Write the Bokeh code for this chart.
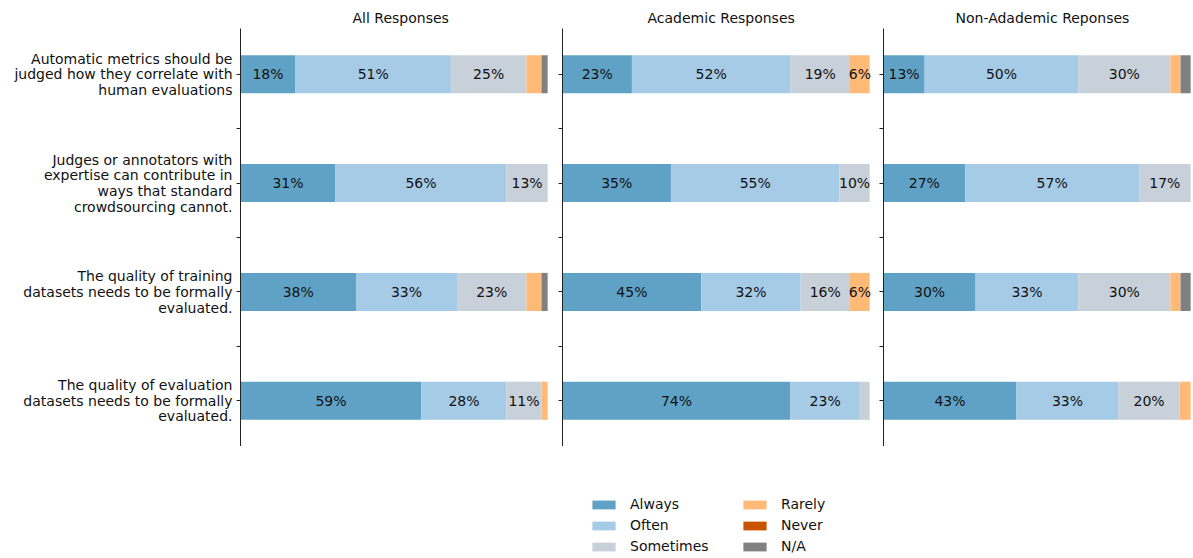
import numpy as np
from bokeh.plotting import figure
from bokeh.models import Range1d, FixedTicker, ColumnDataSource, Legend, LegendItem
from bokeh.layouts import row, column
from bokeh.embed import file_html
from bokeh.resources import INLINE
from bokeh.core.properties import value

FONT = "DejaVu Sans"

# ---------------- data ----------------
categories = ["Always", "Often", "Sometimes", "Rarely", "Never", "N/A"]
colors = ["#60a2c6", "#a5cbe7", "#c8d0da", "#ffba78", "#c85200", "#808080"]

questions = [
    "Automatic metrics should be\njudged how they correlate with\nhuman evaluations",
    "Judges or annotators with\nexpertise can contribute in\nways that standard\ncrowdsourcing cannot.",
    "The quality of training\ndatasets needs to be formally\nevaluated.",
    "The quality of evaluation\ndatasets needs to be formally\nevaluated.",
]

panel_titles = ["All Responses", "Academic Responses", "Non-Adademic Reponses"]

# percentages per question (rows) for each answer category
all_always    = [17.9, 30.9, 37.6, 58.9]
all_often     = [50.6, 55.7, 32.9, 27.7]
all_sometimes = [24.6, 13.4, 22.6, 11.4]
all_rarely    = [4.9, 0.0, 4.9, 2.0]
all_never     = [0.0, 0.0, 0.0, 0.0]
all_na        = [2.0, 0.0, 2.0, 0.0]

ac_always     = [22.6, 35.3, 45.2, 74.2]
ac_often      = [51.6, 54.9, 32.3, 22.6]
ac_sometimes  = [19.4, 9.8, 16.1, 3.2]
ac_rarely     = [6.4, 0.0, 6.4, 0.0]
ac_never      = [0.0, 0.0, 0.0, 0.0]
ac_na         = [0.0, 0.0, 0.0, 0.0]

na_always     = [13.4, 26.6, 30.0, 43.3]
na_often      = [50.0, 56.6, 33.4, 33.2]
na_sometimes  = [30.0, 16.8, 30.0, 19.9]
na_rarely     = [3.3, 0.0, 3.3, 3.6]
na_never      = [0.0, 0.0, 0.0, 0.0]
na_na         = [3.3, 0.0, 3.3, 0.0]

panels = [
    [all_always, all_often, all_sometimes, all_rarely, all_never, all_na],
    [ac_always, ac_often, ac_sometimes, ac_rarely, ac_never, ac_na],
    [na_always, na_often, na_sometimes, na_rarely, na_never, na_na],
]

rows_y = [0, 1, 2, 3]


def make_panel(title, series, first, border_left, title_offset):
    p = figure(frame_width=309, frame_height=418,
               x_range=Range1d(0, 100.6), y_range=Range1d(3.42, -0.42),
               toolbar_location=None, output_backend="svg",
               x_axis_location=None,
               min_border_left=border_left, min_border_right=0,
               min_border_top=28, min_border_bottom=0)
    p.outline_line_color = None
    p.xgrid.visible = False
    p.ygrid.visible = False
    p.background_fill_color = "white"

    left = np.zeros(len(rows_y))
    tx, ty, tt = [], [], []
    for vals, col in zip(series, colors):
        v = np.array(vals, dtype=float)
        right = left + v
        src = ColumnDataSource(dict(y=rows_y, left=left, right=right))
        p.hbar(y="y", left="left", right="right", height=0.35, source=src,
               fill_color=col, line_color=None)
        for i, val in enumerate(v):
            if val >= 5.5:
                tx.append((left[i] + right[i]) / 2)
                ty.append(rows_y[i])
                tt.append(f"{val:.0f}%")
        left = right
    p.text(x=tx, y=ty, text=tt, text_align="center", text_baseline="middle",
           text_font=value(FONT), text_font_size="14px", text_color="#111111")

    ax = p.yaxis[0]
    ax.ticker = FixedTicker(ticks=rows_y, minor_ticks=[0.5, 1.5, 2.5])
    ax.axis_line_color = "#222222"
    ax.axis_line_width = 1
    ax.major_tick_in = 0
    ax.major_tick_out = 4
    ax.minor_tick_in = 0
    ax.minor_tick_out = 4
    ax.major_tick_line_color = "#222222"
    ax.minor_tick_line_color = "#222222"
    ax.major_label_standoff = 4
    ax.major_label_text_font = FONT
    ax.major_label_text_color = "#111111"
    ax.major_label_text_line_height = 0.98
    if first:
        ax.major_label_overrides = {i: q for i, q in zip(rows_y, questions)}
        ax.major_label_text_font_size = "14px"
    else:
        ax.major_label_overrides = {i: "" for i in rows_y}
        ax.major_label_text_font_size = "0px"

    p.title.text = title
    p.title.align = "left"
    p.title.offset = title_offset
    p.title.text_font = FONT
    p.title.text_font_size = "14px"
    p.title.text_font_style = "normal"
    p.title.text_color = "#111111"
    p.title.standoff = 6
    return p


f1 = make_panel(panel_titles[0], panels[0], True, 240, 112)
f2 = make_panel(panel_titles[1], panels[1], False, 13, 85)
f3 = make_panel(panel_titles[2], panels[2], False, 12, 72)

# legend strip (dummy renderers placed outside the visible range)
lf = figure(width=1190, height=112, toolbar_location=None, output_backend="svg",
            x_range=Range1d(0, 1), y_range=Range1d(0, 1),
            x_axis_location=None, y_axis_location=None,
            min_border=0)
lf.outline_line_color = None
lf.xgrid.visible = False
lf.ygrid.visible = False
items = []
for cat, col in zip(categories, colors):
    r = lf.hbar(y=[-10], left=[0], right=[1], height=0.5, fill_color=col, line_color=None)
    items.append(LegendItem(label=cat, renderers=[r]))
legend = Legend(items=items, location=(589, 4), orientation="vertical", nrows=3,
                padding=0, margin=0, spacing=5,
                glyph_width=29, glyph_height=11, label_standoff=12,
                label_width=105, label_height=16,
                label_text_font=FONT, label_text_font_size="14px",
                label_text_color="#111111",
                border_line_color=None, background_fill_alpha=0)
lf.add_layout(legend)

layout = column(row(f1, f2, f3), lf)

open("out.html", "w").write(file_html(layout, INLINE))
